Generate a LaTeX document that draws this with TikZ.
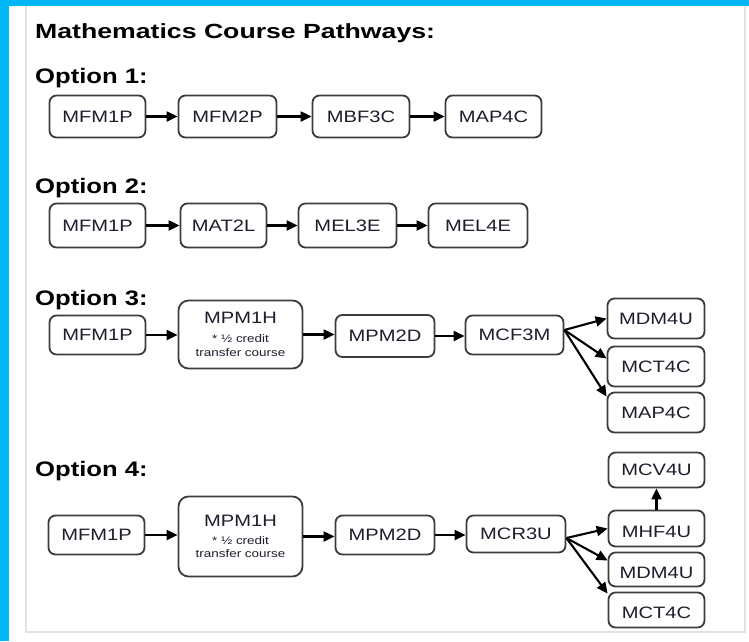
\documentclass[tikz,border=0pt]{standalone}
\usepackage{fontspec}
\setmainfont{Liberation Sans}
\newfontfamily\titlefam[FakeStretch=1.30]{Liberation Sans}
\newfontfamily\optfam[FakeStretch=1.22]{Liberation Sans}
\newfontfamily\labfam[FakeStretch=1.22]{Liberation Sans}
\newfontfamily\smfam[FakeStretch=1.22]{Liberation Sans}
\usetikzlibrary{arrows.meta,calc}
\definecolor{cyanbar}{RGB}{0,182,244}
\definecolor{panelgray}{RGB}{226,226,226}
\definecolor{boxgray}{RGB}{60,60,60}
\definecolor{textcol}{RGB}{30,30,44}
\tikzset{
  box/.style={draw=boxgray, line width=1.8pt, rounded corners=7pt, fill=white,
    inner sep=0pt, text=textcol, font=\labfam\fontsize{16.5}{19}\selectfont},
  bigbox/.style={box, rounded corners=10pt, align=center,
    font=\smfam\fontsize{11}{13.2}\selectfont},
  arr/.style={line width=2.1pt, draw=black, -{Triangle[length=11pt,width=10pt]}},
  heading/.style={anchor=base west, inner sep=0pt, text=black,
    font=\optfam\bfseries\fontsize{21}{25}\selectfont},
  lowtext/.style={text height=17pt, text depth=0pt}
}
\begin{document}
\begin{tikzpicture}[x=1pt,y=-1pt]
\useasboundingbox (0,0) rectangle (749,641);
\fill[cyanbar] (0,0) rectangle (9,641);
\fill[cyanbar] (0,0) rectangle (749,6);
\draw[panelgray, line width=2pt] (25.5,6) -- (25.5,632) -- (745,632) -- (745,6);

\node[heading, font=\titlefam\bfseries\fontsize{20.5}{24}\selectfont] (title) at (35,38) {Mathematics Course Pathways:};
\node[heading] (opt1) at (35,83) {Option 1:};
\node[heading] (opt2) at (35,193) {Option 2:};
\node[heading] (opt3) at (35,305) {Option 3:};
\node[heading] (opt4) at (35,476) {Option 4:};

% Option 1
\node[box, minimum width=96pt, minimum height=42pt] (a1) at (97.5,116.5) {MFM1P};
\node[box, minimum width=98pt, minimum height=42pt] (a2) at (227.5,116.5) {MFM2P};
\node[box, minimum width=97pt, minimum height=42pt] (a3) at (361,116.5) {MBF3C};
\node[box, minimum width=96pt, minimum height=42pt] (a4) at (493.5,116.5) {MAP4C};
\draw[arr] (a1) -- (a2);
\draw[arr] (a2) -- (a3);
\draw[arr] (a3) -- (a4);

% Option 2
\node[box, minimum width=96pt, minimum height=44pt] (b1) at (97.5,225.5) {MFM1P};
\node[box, minimum width=86pt, minimum height=44pt] (b2) at (223.5,225.5) {MAT2L};
\node[box, minimum width=98pt, minimum height=44pt] (b3) at (347.5,225.5) {MEL3E};
\node[box, minimum width=99pt, minimum height=44pt] (b4) at (478,225.5) {MEL4E};
\draw[arr] (b1) -- (b2);
\draw[arr] (b2) -- (b3);
\draw[arr] (b3) -- (b4);

% Option 3
\node[box, minimum width=96pt, minimum height=39pt] (c1) at (97.5,335) {MFM1P};
\node[bigbox, minimum width=124pt, minimum height=68pt] (c2) at (240.5,334.5)
  {{\labfam\fontsize{16.5}{19}\selectfont MPM1H}\\[5pt]* ½ credit\\[1pt]transfer course};
\node[box, minimum width=99pt, minimum height=42pt] (c3) at (385,336) {MPM2D};
\node[box, minimum width=98pt, minimum height=39pt] (c4) at (514.5,335) {MCF3M};
\node[box, minimum width=97pt, minimum height=40pt] (c5) at (656,318.5) {MDM4U};
\node[box, minimum width=97pt, minimum height=40pt] (c6) at (656,366.5) {MCT4C};
\node[box, minimum width=97pt, minimum height=40pt] (c7) at (656,412.5) {MAP4C};
\draw[arr] (c1.east) -- (c1.east -| c2.west);
\draw[arr] (c2.east) -- (c2.east -| c3.west);
\draw[arr] (c3.east) -- (c3.east -| c4.west);
\coordinate (c4s) at ($(c4.east)+(0,-5)$);
\draw[arr] (c4s) -- (c5.west);
\draw[arr] (c4s) -- ($(c6.west)+(0,-8)$);
\draw[arr] (c4s) -- ($(c7.north west)+(0,5)$);

% Option 4
\node[box, minimum width=96pt, minimum height=39pt] (d1) at (96.5,535) {MFM1P};
\node[bigbox, minimum width=124pt, minimum height=80pt] (d2) at (240.5,536.5)
  {{\labfam\fontsize{16.5}{19}\selectfont MPM1H}\\[5pt]* ½ credit\\[0pt]transfer course};
\node[box, minimum width=99pt, minimum height=39pt] (d3) at (385,535) {MPM2D};
\node[box, minimum width=99pt, minimum height=37pt] (d4) at (516,534) {MCR3U};
\node[box, minimum width=96pt, minimum height=35pt] (d5) at (656.5,470) {MCV4U};
\node[box, lowtext, minimum width=96pt, minimum height=36pt] (d6) at (656.5,528.5) {MHF4U};
\node[box, lowtext, minimum width=96pt, minimum height=34pt] (d7) at (656.5,569.5) {MDM4U};
\node[box, lowtext, minimum width=96pt, minimum height=35pt] (d8) at (656.5,610) {MCT4C};
\draw[arr] (d1.east) -- (d1.east -| d2.west);
\draw[arr] (d2.east) -- (d2.east -| d3.west);
\draw[arr] (d3.east) -- (d3.east -| d4.west);
\coordinate (d4s) at ($(d4.east)+(0,4)$);
\draw[arr] (d4s) -- (d6.west);
\draw[arr] (d4s) -- ($(d7.west)+(0,-9)$);
\draw[arr] (d4s) -- ($(d8.north west)+(0,2)$);
\draw[arr] (d6.north) -- (d5.south);
\end{tikzpicture}
\end{document}
